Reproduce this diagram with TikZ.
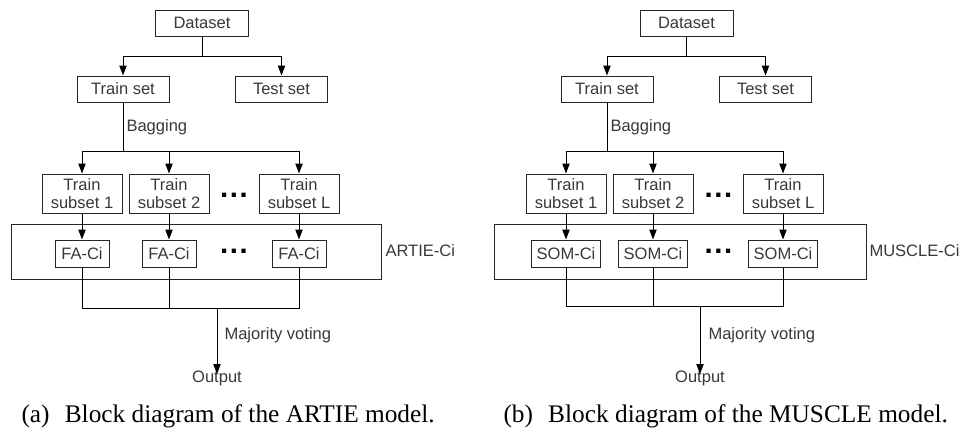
\documentclass[tikz,border=0pt]{standalone}
\usepackage{fontspec}
\setmainfont{Liberation Serif}
\newfontfamily\diafont{Liberation Sans}
\usetikzlibrary{arrows.meta}
\definecolor{txtgrey}{HTML}{383838}

\tikzset{
	box/.style = {draw = black!85, inner sep = 0pt, align = center, text = txtgrey,
		font = \diafont\fontsize{12.4}{13.5}\selectfont},
	lbl/.style = {inner sep = 0pt, anchor = west, text = txtgrey,
		font = \diafont\fontsize{12.4}{13.5}\selectfont},
	dotrow/.style = {inner sep = 0pt, anchor = base,
		font = \diafont\bfseries\fontsize{22}{22}\selectfont},
	arr/.style = {-{Triangle[length=7.5pt, width=5.5pt]}},
	captext/.style = {inner sep = 0pt, anchor = base west, font = \fontsize{19}{21}\selectfont},
}

\begin{document}
\begin{tikzpicture}[x=0.75pt,y=0.75pt, line width=0.75pt]
		\useasboundingbox (0, 0) rectangle (961, -436);
		%%%%%%%%%%%%% (a) ARTIE
		\node[box, minimum width = 69.75pt, minimum height = 19.5pt] (ds1) at (202, -23) {Dataset};
		\node[box, minimum width = 69pt, minimum height = 19.5pt] (tr1) at (123, -89) {Train set};
		\node[box, minimum width = 69pt, minimum height = 19.5pt] (te1) at (281.5, -89) {Test set};
		\node[box, minimum width = 60pt, minimum height = 29.25pt] (sub11) at (82, -193.5) {Train\\subset 1};
		\node[box, minimum width = 60pt, minimum height = 29.25pt] (sub12) at (169, -193.5) {Train\\subset 2};
		\node[box, minimum width = 60pt, minimum height = 29.25pt] (sub13) at (299, -193.5) {Train\\subset L};
		\node[dotrow] (dt11) at (234, -197.5) {.\kern1.2pt.\kern1.2pt.};
		\node[box, minimum width = 277.5pt, minimum height = 41.25pt] (ens1) at (196, -251.5) {};
		\node[box, minimum width = 40.5pt, minimum height = 20.25pt] (fa11) at (82, -253.5) {FA-Ci};
		\node[box, minimum width = 40.5pt, minimum height = 20.25pt] (fa12) at (169, -253.5) {FA-Ci};
		\node[box, minimum width = 40.5pt, minimum height = 20.25pt] (fa13) at (299, -253.5) {FA-Ci};
		\node[dotrow] (dt12) at (234, -253.5) {.\kern1.2pt.\kern1.2pt.};
		\node[lbl] (nm1) at (385, -251) {ARTIE-Ci};
		\node[lbl] (bag1) at (126, -127) {Bagging};
		\node[lbl] (mv1) at (224, -335) {Majority voting};
		\node[lbl, anchor = center] (out1) at (217, -378) {Output};
		\coordinate (bg1) at (123, -151);
		\coordinate (vt1) at (217, -308);
		%%%%%%%%%%%%%
		\draw [arr] (ds1.south) -- ++(0, -20) -| (tr1.north);
		\draw [arr] (ds1.south) -- ++(0, -20) -| (te1.north);
		\draw (tr1.south) -- (bg1);
		\draw [arr] (bg1) -| (sub11.north);
		\draw [arr] (bg1) -| (sub12.north);
		\draw [arr] (bg1) -| (sub13.north);
		\draw [arr] (sub11) to (fa11);
		\draw [arr] (sub12) to (fa12);
		\draw [arr] (sub13) to (fa13);
		\draw (fa11.south) |- (vt1);
		\draw (fa13.south) |- (vt1);
		\draw (fa12.south) -- (fa12.south |- vt1);
		\draw [arr] (vt1) -- ([yshift=-3pt]out1.north);
		%%%%%%%%%%%%% (b) MUSCLE
		\node[box, minimum width = 69.75pt, minimum height = 19.5pt] (ds2) at (686.5, -23) {Dataset};
		\node[box, minimum width = 69pt, minimum height = 19.5pt] (tr2) at (607, -89) {Train set};
		\node[box, minimum width = 69pt, minimum height = 19.5pt] (te2) at (765.5, -89) {Test set};
		\node[box, minimum width = 60pt, minimum height = 29.25pt] (sub21) at (566, -193.5) {Train\\subset 1};
		\node[box, minimum width = 60pt, minimum height = 29.25pt] (sub22) at (653, -193.5) {Train\\subset 2};
		\node[box, minimum width = 60pt, minimum height = 29.25pt] (sub23) at (783, -193.5) {Train\\subset L};
		\node[dotrow] (dt21) at (718.5, -197.5) {.\kern1.2pt.\kern1.2pt.};
		\node[box, minimum width = 279pt, minimum height = 41.25pt] (ens2) at (680, -251.5) {};
		\node[box, minimum width = 51.75pt, minimum height = 20.25pt] (som21) at (566, -253.5) {SOM-Ci};
		\node[box, minimum width = 51.75pt, minimum height = 20.25pt] (som22) at (653, -253.5) {SOM-Ci};
		\node[box, minimum width = 51.75pt, minimum height = 20.25pt] (som23) at (783, -253.5) {SOM-Ci};
		\node[dotrow] (dt22) at (718.5, -253.5) {.\kern1.2pt.\kern1.2pt.};
		\node[lbl] (nm2) at (869, -251) {MUSCLE-Ci};
		\node[lbl] (bag2) at (610, -127) {Bagging};
		\node[lbl] (mv2) at (708, -335) {Majority voting};
		\node[lbl, anchor = center] (out2) at (700, -378) {Output};
		\coordinate (bg2) at (607, -151);
		\coordinate (vt2) at (700, -306);
		%%%%%%%%%%%%%
		\draw [arr] (ds2.south) -- ++(0, -20) -| (tr2.north);
		\draw [arr] (ds2.south) -- ++(0, -20) -| (te2.north);
		\draw (tr2.south) -- (bg2);
		\draw [arr] (bg2) -| (sub21.north);
		\draw [arr] (bg2) -| (sub22.north);
		\draw [arr] (bg2) -| (sub23.north);
		\draw [arr] (sub21) to (som21);
		\draw [arr] (sub22) to (som22);
		\draw [arr] (sub23) to (som23);
		\draw (som21.south) |- (vt2);
		\draw (som23.south) |- (vt2);
		\draw (som22.south) -- (som22.south |- vt2);
		\draw [arr] (vt2) -- ([yshift=-3pt]out2.north);
		%%%%%%%%%%%%% captions
		\node[captext] (capa) at (21, -422) {(a)\hspace{0.6em}Block diagram of the ARTIE model.};
		\node[captext] (capb) at (503, -422) {(b)\hspace{0.6em}Block diagram of the MUSCLE model.};
	\end{tikzpicture}
\end{document}
